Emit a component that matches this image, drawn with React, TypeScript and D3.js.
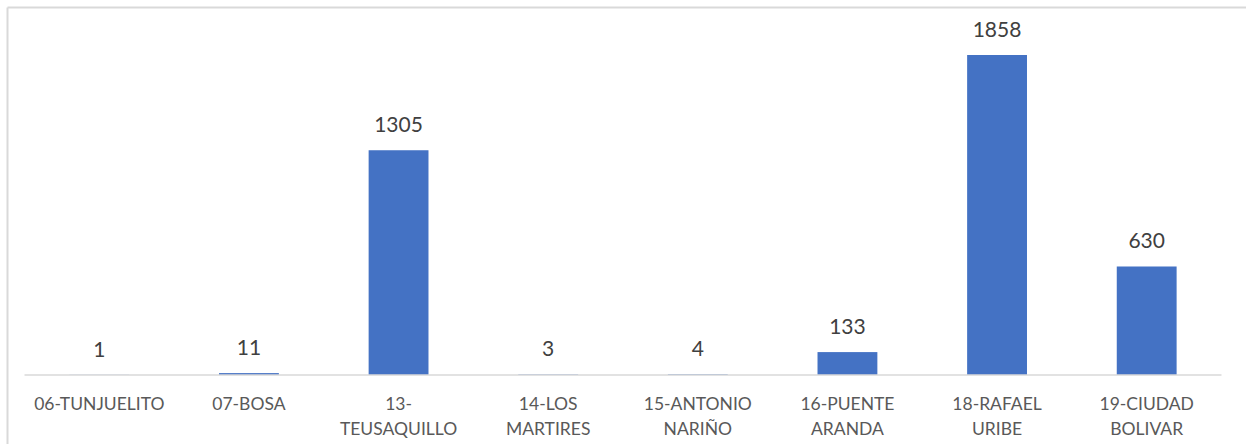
import React from "react";
import * as d3 from "d3";

const categories = [
  "06-TUNJUELITO",
  "07-BOSA",
  "13-\nTEUSAQUILLO",
  "14-LOS\nMARTIRES",
  "15-ANTONIO\nNARIÑO",
  "16-PUENTE\nARANDA",
  "18-RAFAEL\nURIBE",
  "19-CIUDAD\nBOLIVAR",
];
const values = [1, 11, 1305, 3, 4, 133, 1858, 630];

const W = 1246;
const H = 444;
const FONT = "Lato, 'Open Sans', sans-serif";

export default function App() {
  const baseY = 375;
  const x = d3
    .scaleBand<string>()
    .domain(categories)
    .range([24.5, 1221.5])
    .paddingInner(0.6)
    .paddingOuter(0.3);
  const y = d3.scaleLinear().domain([0, 1858]).range([baseY, 55]);
  const step = x.step();
  const outerLeft = x(categories[0])! - step * 0.3;
  const outerRight = outerLeft + step * categories.length;

  return (
    <svg
      width={W}
      height={H}
      style={{ position: "absolute", left: 0, top: 0, background: "#fff" }}
    >
      <rect x={0} y={0} width={W} height={H} fill="#fff" />
      {/* frame */}
      <line x1={7.5} y1={7.5} x2={W} y2={7.5} stroke="#D9D9D9" strokeWidth={2} />
      <line x1={7.5} y1={7.5} x2={7.5} y2={H} stroke="#D9D9D9" strokeWidth={2} />
      {/* bars */}
      {categories.map((c, i) => (
        <rect
          key={c}
          x={x(c)}
          y={y(values[i])}
          width={x.bandwidth()}
          height={baseY - y(values[i])}
          fill="#4472C4"
        />
      ))}
      {/* axis line */}
      <line
        x1={outerLeft}
        x2={outerRight}
        y1={baseY}
        y2={baseY}
        stroke="#D9D9D9"
        strokeWidth={1.5}
      />
      {/* value labels */}
      {categories.map((c, i) => (
        <text
          key={"v" + c}
          x={x(c)! + x.bandwidth() / 2}
          y={y(values[i]) - 18}
          textAnchor="middle"
          fontFamily={FONT}
          fontSize={21}
          fill="#404040"
        >
          {values[i]}
        </text>
      ))}
      {/* category labels */}
      {categories.map((c) => (
        <text
          key={"c" + c}
          x={x(c)! + x.bandwidth() / 2}
          textAnchor="middle"
          fontFamily={FONT}
          fontSize={17.5}
          fill="#595959"
        >
          {c.split("\n").map((ln, j) => (
            <tspan key={j} x={x(c)! + x.bandwidth() / 2} y={409.5 + j * 25.5}>
              {ln}
            </tspan>
          ))}
        </text>
      ))}
    </svg>
  );
}
